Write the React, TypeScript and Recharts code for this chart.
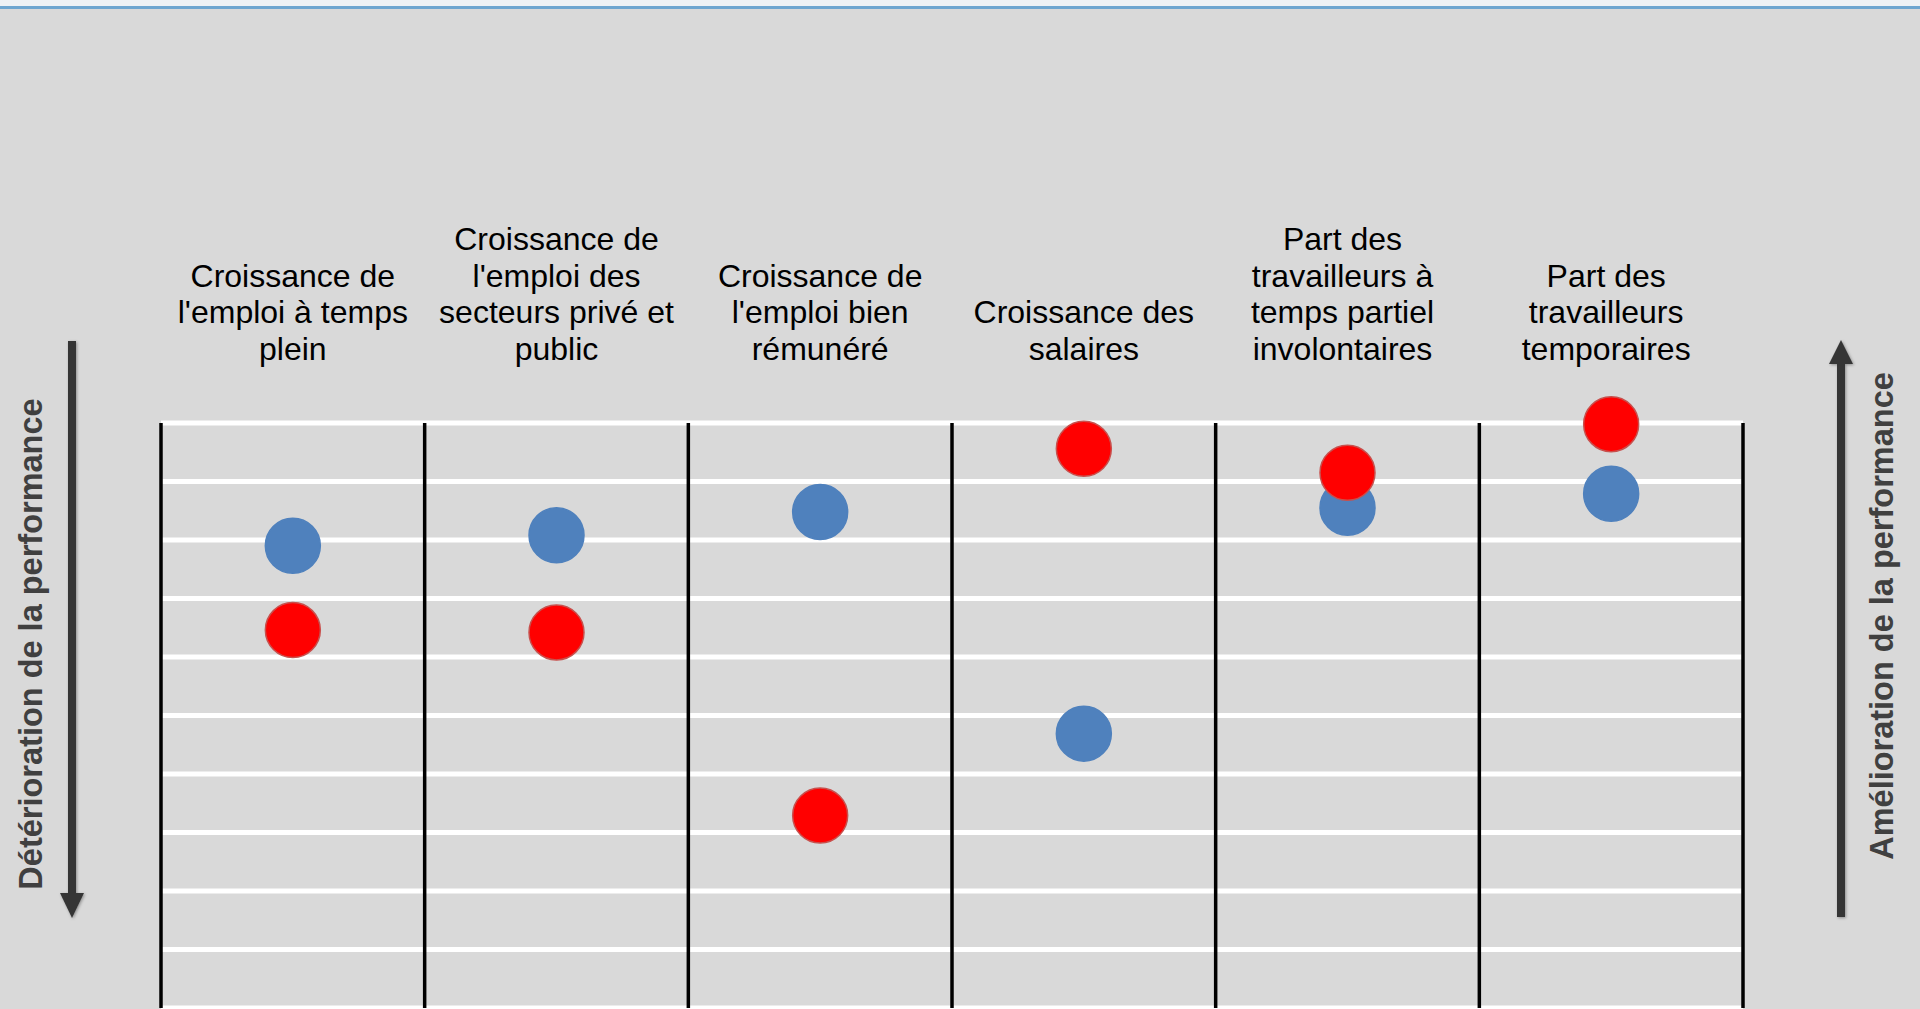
import React from "react";
import {
  CartesianGrid,
  ComposedChart,
  Scatter,
  XAxis,
  YAxis,
} from "recharts";

// column headers (line breaks as in the original slide)
const categories = [
  "Croissance de\nl'emploi à temps\nplein",
  "Croissance de\nl'emploi des\nsecteurs privé et\npublic",
  "Croissance de\nl'emploi bien\nrémunéré",
  "Croissance des\nsalaires",
  "Part des\ntravailleurs à\ntemps partiel\ninvolontaires",
  "Part des\ntravailleurs\ntemporaires",
];

// position on the performance scale (10 = top / best)
const blueValues = [7.9, 8.08, 8.48, 4.69, 8.55, 8.79];
const redValues = [6.46, 6.42, 3.29, 9.56, 9.15, 9.98];

const yTicks = [0, 1, 2, 3, 4, 5, 6, 7, 8, 9, 10];
const columnEdges = [0, 1, 2, 3, 4, 5, 6];

const FONT = "'Liberation Sans', Arial, sans-serif";

const blueData = categories.map((c, i) => ({ pos: i + 0.5, cat: c, value: blueValues[i] }));
const redData = categories.map((c, i) => ({ pos: i + 0.5, cat: c, value: redValues[i] }));

function HeaderTick(props: any) {
  const { x, y, payload } = props;
  const idx = Math.floor(payload.value);
  const lines = (categories[idx] || "").split("\n");
  const lineH = 36.7;
  const lastBaseline = y - 55;
  // the last two text boxes sit a little left of their column centre
  const cx = idx >= 4 ? x - 5 : x;
  return (
    <text x={cx} textAnchor="middle" fontFamily={FONT} fontSize={32} fill="#000">
      {lines.map((l, i) => (
        <tspan key={i} x={cx} y={lastBaseline - (lines.length - 1 - i) * lineH}>
          {l}
        </tspan>
      ))}
    </text>
  );
}

const dot = (fill: string, stroke: string) => (p: any) => (
  <circle cx={p.cx} cy={p.cy} r={27.5} fill={fill} stroke={stroke} strokeWidth={1.5} />
);

export default function App() {
  return (
    <div
      style={{
        position: "absolute",
        left: 0,
        top: 0,
        width: 1920,
        height: 1009,
        overflow: "hidden",
        background: "#d9d9d9",
      }}
    >
      <div style={{ position: "absolute", left: 0, top: 0, width: 1920, height: 6, background: "#eef2f5" }} />
      <div style={{ position: "absolute", left: 0, top: 6, width: 1920, height: 3, background: "#6ea6d0" }} />

      <div style={{ position: "absolute", left: 0, top: 0 }}>
        <ComposedChart
          width={1920}
          height={1040}
          margin={{ top: 383, right: 177, bottom: 32, left: 161 }}
        >
          <CartesianGrid vertical={false} stroke="#ffffff" strokeWidth={5} />
          <CartesianGrid horizontal={false} stroke="#000000" strokeWidth={3.5} verticalValues={columnEdges} />
          <XAxis
            dataKey="pos"
            type="number"
            orientation="top"
            domain={[0, 6]}
            ticks={categories.map((_, i) => i + 0.5)}
            height={40}
            axisLine={false}
            tickLine={false}
            tick={<HeaderTick />}
            interval={0}
          />
          <YAxis type="number" dataKey="value" domain={[0, 10]} ticks={yTicks} hide />
          <Scatter
            name="Série bleue"
            data={blueData}
            dataKey="value"
            shape={dot("#4f81bd", "#4f81bd")}
            isAnimationActive={false}
          />
          <Scatter
            name="Série rouge"
            data={redData}
            dataKey="value"
            shape={dot("#ff0000", "#c8504d")}
            isAnimationActive={false}
          />
        </ComposedChart>
      </div>

      {/* side arrows and captions */}
      <svg
        width={1920}
        height={1009}
        style={{ position: "absolute", left: 0, top: 0, pointerEvents: "none" }}
      >
        <defs>
          <filter id="sh" x="-50%" y="-10%" width="200%" height="120%">
            <feDropShadow dx="1" dy="1" stdDeviation="1.5" floodColor="#000" floodOpacity="0.35" />
          </filter>
        </defs>
        <g filter="url(#sh)" fill="#363636">
          <rect x={68} y={341} width={8} height={554} />
          <polygon points="60,893 84,893 72,918" />
          <rect x={1837} y={362} width={8} height={555} />
          <polygon points="1829,364 1853,364 1841,340" />
        </g>
        <text
          transform="translate(31,644) rotate(-90)"
          textAnchor="middle"
          dominantBaseline="central"
          fontFamily={FONT}
          fontWeight="bold"
          fontSize={32.5}
          fill="#404040"
        >
          Détérioration de la performance
        </text>
        <text
          transform="translate(1882,616) rotate(-90)"
          textAnchor="middle"
          dominantBaseline="central"
          fontFamily={FONT}
          fontWeight="bold"
          fontSize={32.5}
          fill="#404040"
        >
          Amélioration de la performance
        </text>
      </svg>
    </div>
  );
}
